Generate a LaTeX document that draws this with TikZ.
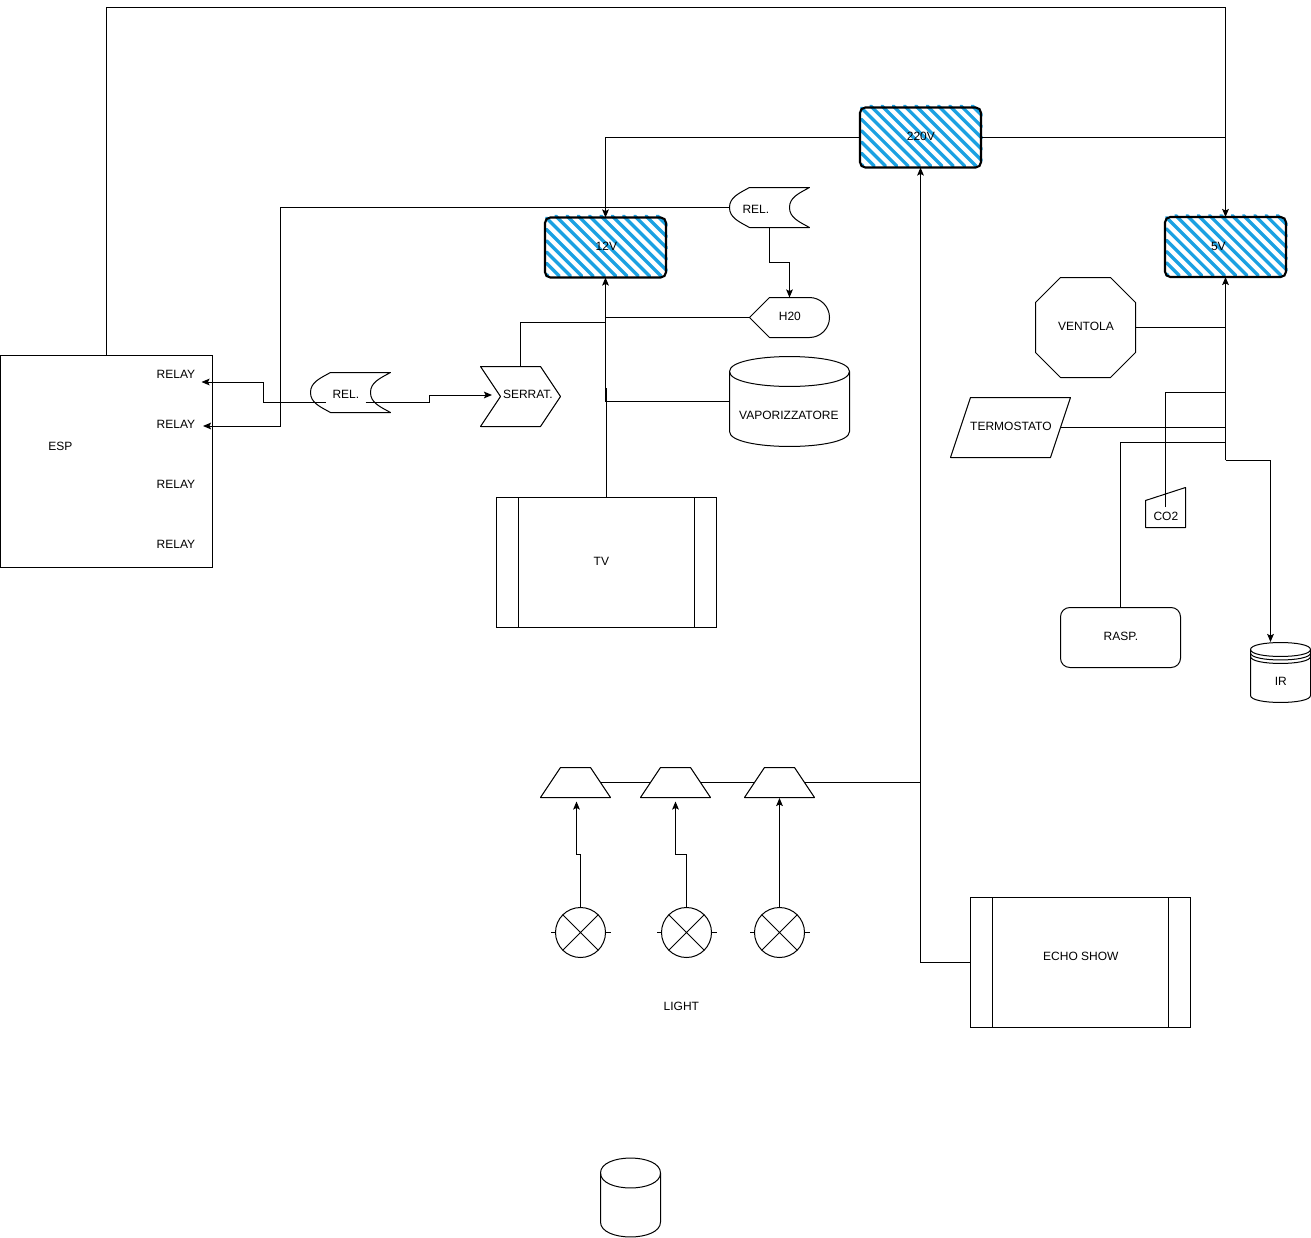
\documentclass[tikz,border=0pt]{standalone}
\usepackage{fontspec}
\setmainfont{Liberation Sans}
\usepackage{xcolor}
\usetikzlibrary{arrows.meta, fit, calc}
\definecolor{hatchblue}{HTML}{1BA1E2}

% outlines are drawn from the corners of an empty node
\newcommand{\relshape}[1]{
  \draw[outline] ($(#1.north west)+(20,0)$) -- (#1.north east)
    .. controls +(-11,6) and +(0,-10) .. ($(#1.east)+(-20,0)$)
    .. controls +(0,10) and +(-11,-6) .. (#1.south east)
    -- ($(#1.south west)+(20,0)$)
    .. controls +(-11,-6) and +(0,10) .. (#1.west)
    .. controls +(0,-10) and +(-11,6) .. cycle;
}
\newcommand{\trapshape}[1]{
  \draw[outline, fill=white] ($(#1.north west)+(20,0)$) -- ($(#1.north east)+(-20,0)$)
    -- (#1.south east) -- (#1.south west) -- cycle;
}
\newcommand{\lampshape}[1]{
  \draw[outline] (#1.45) -- (#1.225) (#1.135) -- (#1.315);
  \draw[outline] (#1.west) -- ++(-5,0) (#1.east) -- ++(5,0);
}
\newcommand{\tankshape}[2]{
  \draw[outline] ($(#1.north west)+(0,#2)$)
    .. controls +(0,-#2*1.33) and +(0,-#2*1.33) .. ($(#1.north east)+(0,#2)$)
    -- ($(#1.south east)+(0,-#2)$)
    .. controls +(0,#2*1.33) and +(0,#2*1.33) .. ($(#1.south west)+(0,-#2)$) -- cycle;
  \draw[outline] ($(#1.north west)+(0,#2)$)
    .. controls +(0,#2*1.33) and +(0,#2*1.33) .. ($(#1.north east)+(0,#2)$);
}
\newcommand{\hatchshape}[1]{
  \foreach \k in {-6,...,9} {
    \pgfmathsetmacro{\c}{9.2+11.3*\k}
    \pgfmathsetmacro{\xa}{max(\c,0)+1.5}
    \pgfmathsetmacro{\ya}{max(-\c,0)-1.5}
    \pgfmathsetmacro{\xb}{min(120,\c+60)+1.5}
    \pgfmathsetmacro{\yb}{min(60,120-\c)-1.5}
    \draw[hatchblue, line width=2.5pt, line cap=round]
      ($(#1.north west)+(\xa,\ya)$) -- ($(#1.north west)+(\xb,\yb)$);
  }
  \draw[line width=1.6pt, rounded corners=4pt]
    (#1.north west) rectangle (#1.south east);
}

\begin{document}
\begin{tikzpicture}[
  x=0.75pt, y=-0.75pt,
  every path/.style={line width=0.75pt},
  place/.style={inner sep=0pt, outer sep=0pt},
  boxed/.style={place, draw},
  outline/.style={line width=0.75pt, line join=round},
  wire/.style={draw, line width=0.75pt},
  feed/.style={wire, -{Stealth[length=6pt, width=5pt, inset=1.2pt]}},
  txt/.style={inner sep=0pt, xshift=0.3pt, yshift=-0.7pt, font=\fontsize{9}{11}\selectfont},
]
  \useasboundingbox (0,0) rectangle (1311,1238);

  % places
  \node[boxed, fit={(0.5,355.5) (212.5,567.5)}] (esp) {};
  \node[boxed, fit={(496.5,497.5) (716.5,627.5)}] (tv) {};
  \node[boxed, fit={(970.5,897.5) (1190.5,1027.5)}] (echo) {};
  \node[boxed, rounded corners=7pt, fit={(1060.5,607.5) (1180.5,667.5)}] (rasp) {};
  \node[place, fit={(860,107.5) (981,167.5)}] (supply_220) {};
  \node[place, fit={(545,217.5) (666,277.5)}] (supply_12) {};
  \node[place, fit={(1165,217) (1286,277)}] (supply_5) {};
  \node[place, fit={(310.5,372.5) (390.5,412.5)}] (rel_a) {};
  \node[place, fit={(729.5,187.5) (809.5,227.5)}] (rel_b) {};
  \node[place, fit={(480.5,366.5) (560.5,426.5)}] (serrat) {};
  \node[place, fit={(749.5,297.5) (829.5,337.5)}] (h20) {};
  \node[place, fit={(729.5,356.5) (849.5,446.5)}] (vapor) {};
  \node[place, fit={(1035.5,277.5) (1135.5,377.5)}] (ventola) {};
  \node[place, fit={(950.5,397.5) (1070.5,457.5)}] (termostato) {};
  \node[place, fit={(1145.5,487.5) (1185.5,527.5)}] (co2) {};
  \node[place, fit={(1250.5,642.5) (1310.5,702.5)}] (ir) {};
  \node[place, fit={(600.5,1158) (660.5,1237)}] (tank) {};
  \node[place, fit={(540.5,767.5) (610.5,797.5)}] (trap_a) {};
  \node[place, fit={(640.5,767.5) (710.5,797.5)}] (trap_b) {};
  \node[place, fit={(744.5,767.5) (814.5,797.5)}] (trap_c) {};
  \node[place, draw, circle, minimum size=37.5pt] (lamp_a) at (580.5,932.5) {};
  \node[place, draw, circle, minimum size=37.5pt] (lamp_b) at (686.5,932.5) {};
  \node[place, draw, circle, minimum size=37.5pt] (lamp_c) at (779.5,932.5) {};

  % free ends and branch points
  \coordinate (bus_top) at (1225.5,7.5);
  \coordinate (bus_12) at (605.5,322);
  \coordinate (bus_co2) at (1225.5,392.5);
  \coordinate (bus_rasp) at (1225.5,442.5);
  \coordinate (bus_5) at (1225.5,460);
  \coordinate (bus_rel) at (280.5,426);
  \coordinate (relay_a_in) at (201.5,382);
  \coordinate (relay_b_in) at (203,426);
  \coordinate (rel_a_in) at (325.5,402.5);
  \coordinate (rel_a_out) at (365.5,402.5);
  \coordinate (serrat_in) at (492,395);
  \coordinate (co2_out) at (1165.5,507);
  \coordinate (ir_in) at (1270.5,642);
  \coordinate (trap_a_in) at (576.5,801.5);
  \coordinate (trap_b_in) at (675.5,801.5);
  \coordinate (trap_c_in) at (779.5,798);

  \hatchshape{supply_220}
  \hatchshape{supply_12}
  \hatchshape{supply_5}

  % mains and its branches
  \draw[feed] (esp.north) |- (bus_top) -- (supply_5.north);
  \draw[wire] (supply_220.east) -- (supply_220.east -| supply_5.north);
  \draw[feed] (supply_220.west) -| (supply_12.north);
  \draw[feed] (echo.west) -| (supply_220.south);
  \draw[wire] (trap_a.center) -- (trap_b.center) -- (trap_c.center)
    -- (trap_c.center -| supply_220.south);

  % relays
  \draw[feed] (rel_b.west) -| (bus_rel) -- (relay_b_in);
  \draw[feed] (rel_a_in) -- ++(-62.5,0) |- (relay_a_in);
  \draw[feed] (rel_a_out) -- ++(63.5,0) |- (serrat_in);
  \draw[feed] (rel_b.south) -- ++(0,35) -| (h20.north);

  % 12V
  \draw[feed] (tv.north) -- ++(0,-109) -- ++(-1,0) -- (supply_12.south);
  \draw[wire] (h20.west) -- (h20.west -| supply_12.south);
  \draw[wire] (vapor.west) -| (bus_12);
  \draw[wire] (serrat.north) |- (bus_12);

  % 5V
  \draw[feed] (bus_5) -- (supply_5.south);
  \draw[feed] (bus_5) -| (ir_in);
  \draw[wire] (ventola.east) -- (ventola.east -| supply_5.south);
  \draw[wire] (termostato.center) -- (termostato.center -| supply_5.south);
  \draw[wire] (co2_out) |- (bus_co2);
  \draw[wire] (rasp.north) |- (bus_rasp);

  % lamps
  \draw[feed] (lamp_a.north) -- ++(0,-53) -| (trap_a_in);
  \draw[feed] (lamp_b.north) -- ++(0,-53) -| (trap_b_in);
  \draw[feed] (lamp_c.north) -- (trap_c_in);

  % outlines
  \relshape{rel_a}
  \relshape{rel_b}
  \trapshape{trap_a}
  \trapshape{trap_b}
  \trapshape{trap_c}
  \lampshape{lamp_a}
  \lampshape{lamp_b}
  \lampshape{lamp_c}
  \tankshape{vapor}{15}
  \tankshape{tank}{15}
  \tankshape{ir}{7}
  \draw[outline] ($(ir.north west)+(0,10.5)$) .. controls +(0,9.3) and +(0,9.3) .. ($(ir.north east)+(0,10.5)$);
  \draw[outline] ($(ir.north west)+(0,14)$) .. controls +(0,9.3) and +(0,9.3) .. ($(ir.north east)+(0,14)$);
  \draw[outline] (tv.north west) ++(22,0) -- ++(0,130);
  \draw[outline] (tv.north east) ++(-22,0) -- ++(0,130);
  \draw[outline] (echo.north west) ++(22,0) -- ++(0,130);
  \draw[outline] (echo.north east) ++(-22,0) -- ++(0,130);
  \draw[outline] (serrat.north west) -- ($(serrat.north east)+(-20,0)$) -- (serrat.east)
    -- ($(serrat.south east)+(-20,0)$) -- (serrat.south west)
    -- ($(serrat.west)+(20,0)$) -- cycle;
  \draw[outline] (h20.west) -- ($(h20.north west)+(20,0)$) -- ($(h20.north east)+(-20,0)$)
    .. controls +(11,0) and +(0,-11) .. (h20.east)
    .. controls +(0,11) and +(11,0) .. ($(h20.south east)+(-20,0)$)
    -- ($(h20.south west)+(20,0)$) -- cycle;
  \draw[outline] ($(ventola.north west)+(25,0)$) -- ($(ventola.north east)+(-25,0)$)
    -- ($(ventola.north east)+(0,25)$) -- ($(ventola.south east)+(0,-25)$)
    -- ($(ventola.south east)+(-25,0)$) -- ($(ventola.south west)+(25,0)$)
    -- ($(ventola.south west)+(0,-25)$) -- ($(ventola.north west)+(0,25)$) -- cycle;
  \draw[outline, fill=white] ($(termostato.north west)+(20,0)$) -- (termostato.north east)
    -- ($(termostato.south east)+(-20,0)$) -- (termostato.south west) -- cycle;
  \draw[outline] ($(co2.north west)+(0,13)$) -- (co2.north east) -- (co2.south east)
    -- (co2.south west) -- cycle;

  % labels
  \node[txt] (esp_txt) at (60,445) {ESP};
  \node[txt] (relay_a) at (175.5,373) {RELAY};
  \node[txt] (relay_b) at (175.5,423) {RELAY};
  \node[txt] (relay_c) at (175.5,483) {RELAY};
  \node[txt] (relay_d) at (175.5,543) {RELAY};
  \node[txt] (rel_a_txt) at (345.5,393) {REL.};
  \node[txt] (rel_b_txt) at (755.5,208) {REL.};
  \node[txt] (serrat_txt) at (527.5,393) {SERRAT.};
  \node[txt] (h20_txt) at (789.5,315) {H20};
  \node[txt] (vapor_txt) at (788.5,414) {VAPORIZZATORE};
  \node[txt] (tv_txt) at (601,560) {TV};
  \node[txt] (s220_txt) at (920.5,135) {220V};
  \node[txt] (s12_txt) at (606,245) {12V};
  \node[txt] (s5_txt) at (1218,245) {5V};
  \node[txt] (ventola_txt) at (1085.5,325) {VENTOLA};
  \node[txt] (termostato_txt) at (1010.5,425) {TERMOSTATO};
  \node[txt] (co2_txt) at (1165.5,515) {CO2};
  \node[txt] (rasp_txt) at (1120.5,635) {RASP.};
  \node[txt] (ir_txt) at (1280.5,680) {IR};
  \node[txt] (light_txt) at (681,1005) {LIGHT};
  \node[txt] (echo_txt) at (1080.5,955) {ECHO SHOW};
\end{tikzpicture}
\end{document}
